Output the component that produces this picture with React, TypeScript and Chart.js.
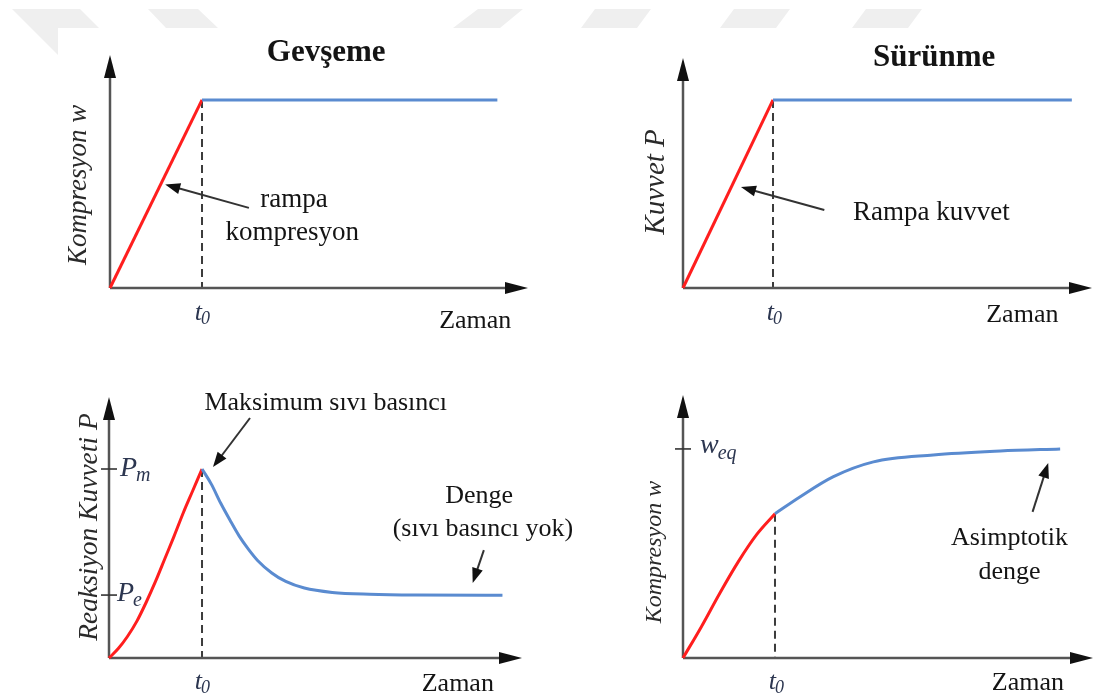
import React, { useEffect, useRef } from "react";
import { Chart, registerables } from "chart.js";

Chart.register(...registerables);

// Time is measured in units of t0; every response is normalised to its reference level.
const t0 = 1;

// Gevşeme: imposed compression, linear ramp up to t0 and then held constant
const relaxRampTime = [0, 1];
const relaxRampComp = [0, 1];
const relaxHoldTime = [1, 4.21];
const relaxHoldComp = [1, 1];

// Sürünme: imposed force, linear ramp up to t0 and then held constant
const creepRampTime = [0, 1];
const creepRampForce = [0, 1];
const creepHoldTime = [1, 4.32];
const creepHoldForce = [1, 1];

// Gevşeme: reaction force climbs to P_m at t0 and relaxes towards P_e
const reactionRiseTime = [0, 0.1, 0.2, 0.3, 0.4, 0.5, 0.6, 0.7, 0.8, 0.9, 1.0];
const reactionRiseForce = [0, 0.05, 0.115, 0.195, 0.295, 0.405, 0.525, 0.645, 0.77, 0.885, 1.0];
const reactionRelaxTime = [1.0, 1.1, 1.2, 1.3, 1.4, 1.5, 1.6, 1.75, 1.9, 2.1, 2.4, 2.8, 3.3, 4.23];
const reactionRelaxForce = [1.0, 0.92, 0.82, 0.73, 0.645, 0.575, 0.515, 0.45, 0.405, 0.37, 0.347, 0.337, 0.333, 0.332];

// Sürünme: compression grows during the ramp, then creeps towards w_eq
const creepRiseTime = [0, 0.2, 0.4, 0.6, 0.8, 1.0];
const creepRiseComp = [0, 0.15, 0.31, 0.46, 0.59, 0.69];
const creepFlowTime = [1.0, 1.27, 1.63, 2.07, 2.72, 3.45, 4.1];
const creepFlowComp = [0.69, 0.77, 0.866, 0.938, 0.971, 0.99, 1.0];

// Reference levels marked on the vertical axes
const peakForce = 1; // P_m
const equilibriumForce = 0.333; // P_e
const equilibriumComp = 1; // w_eq

const PAGE_W = 1094;
const PAGE_H = 699;
const RED = "#ff1e1e";
const BLUE = "#5a8bd0";
const INK = "#141414";
const SLATE = "#2c3650";
const AXIS = "#555555";
const SERIF = '"Liberation Serif", "Times New Roman", serif';
const font = (size: number, style = "") => `${style} ${size}px ${SERIF}`.trim();

type Pt = { x: number; y: number };
const pts = (xs: number[], ys: number[]): Pt[] => xs.map((x, i) => ({ x, y: ys[i] }));

type Label = {
  text: string;
  sub?: string;
  x: number;
  y: number;
  font: string;
  subFont?: string;
  subShift?: number;
  color?: string;
  align?: "left" | "center";
  rotate?: boolean;
};
type Pointer = { from: [number, number]; to: [number, number] };
type Spec = {
  pad: { left: number; top: number; right: number; bottom: number };
  xMax: number;
  yMax: number;
  red: Pt[];
  blue: Pt[];
  curved: boolean;
  guideTop: number;
  levels: number[];
  labels: Label[];
  pointers: Pointer[];
  banner?: boolean;
};

const tLabel = (x: number, y: number): Label => ({
  text: "t",
  sub: "0",
  x,
  y,
  font: font(26, "italic"),
  subFont: font(18, "italic"),
  subShift: 6,
  color: SLATE,
});

// faint banner shapes across the top of the page
const banner: [number, number][][] = [
  [[12, 9], [80, 9], [99, 28], [58, 28], [58, 55]],
  [[148, 9], [198, 9], [218, 28], [166, 28]],
  [[478, 9], [523, 9], [500, 28], [453, 28]],
  [[595, 9], [651, 9], [637, 28], [581, 28]],
  [[734, 9], [790, 9], [776, 28], [720, 28]],
  [[866, 9], [922, 9], [908, 28], [852, 28]],
];

const panels: Spec[] = [
  {
    pad: { left: 110, top: 55, right: 566, bottom: 411 },
    xMax: 4.543,
    yMax: 1.239,
    red: pts(relaxRampTime, relaxRampComp),
    blue: pts(relaxHoldTime, relaxHoldComp),
    curved: false,
    guideTop: relaxHoldComp[0],
    levels: [],
    banner: true,
    labels: [
      { text: "Gevşeme", x: 2.35, y: 1.25, font: font(31, "bold") },
      tLabel(1.01, -0.133),
      { text: "Zaman", x: 3.97, y: -0.175, font: font(26) },
      { text: "rampa", x: 2.0, y: 0.468, font: font(27) },
      { text: "kompresyon", x: 1.98, y: 0.293, font: font(27) },
      { text: "Kompresyon w", x: -0.337, y: 0.548, font: font(27, "italic"), rotate: true, color: "#2a2a2a" },
    ],
    pointers: [{ from: [1.51, 0.426], to: [0.6, 0.55] }],
  },
  {
    pad: { left: 683, top: 58, right: 2, bottom: 411 },
    xMax: 4.544,
    yMax: 1.223,
    red: pts(creepRampTime, creepRampForce),
    blue: pts(creepHoldTime, creepHoldForce),
    curved: false,
    guideTop: creepHoldForce[0],
    levels: [],
    labels: [
      { text: "Sürünme", x: 2.79, y: 1.223, font: font(31, "bold") },
      tLabel(1.02, -0.133),
      { text: "Zaman", x: 3.77, y: -0.144, font: font(26) },
      { text: "Rampa kuvvet", x: 2.76, y: 0.399, font: font(27) },
      { text: "Kuvvet P", x: -0.3, y: 0.564, font: font(29, "italic"), rotate: true, color: "#2a2a2a" },
    ],
    pointers: [{ from: [1.57, 0.415], to: [0.644, 0.537] }],
  },
  {
    pad: { left: 109, top: 397, right: 572, bottom: 41 },
    xMax: 4.44,
    yMax: 1.381,
    red: pts(reactionRiseTime, reactionRiseForce),
    blue: pts(reactionRelaxTime, reactionRelaxForce),
    curved: true,
    guideTop: peakForce,
    levels: [peakForce, equilibriumForce],
    labels: [
      { text: "P", sub: "m", x: 0.118, y: peakForce, font: font(28, "italic"), subFont: font(20, "italic"), subShift: 7, color: SLATE, align: "left" },
      { text: "P", sub: "e", x: 0.086, y: equilibriumForce + 0.005, font: font(28, "italic"), subFont: font(20, "italic"), subShift: 7, color: SLATE, align: "left" },
      tLabel(1.01, -0.127),
      { text: "Zaman", x: 3.75, y: -0.138, font: font(26) },
      { text: "Maksimum sıvı basıncı", x: 2.33, y: 1.349, font: font(26) },
      { text: "Denge", x: 3.98, y: 0.857, font: font(26) },
      { text: "(sıvı basıncı yok)", x: 4.02, y: 0.68, font: font(26) },
      { text: "Reaksiyon Kuvveti P", x: -0.204, y: 0.693, font: font(27.5, "italic"), rotate: true, color: "#2a2a2a" },
    ],
    pointers: [
      { from: [1.516, 1.27], to: [1.118, 1.01] },
      { from: [4.03, 0.571], to: [3.91, 0.397] },
    ],
  },
  {
    pad: { left: 683, top: 395, right: 1, bottom: 41 },
    xMax: 4.457,
    yMax: 1.258,
    red: pts(creepRiseTime, creepRiseComp),
    blue: pts(creepFlowTime, creepFlowComp),
    curved: true,
    guideTop: creepFlowComp[0],
    levels: [equilibriumComp],
    labels: [
      { text: "w", sub: "eq", x: 0.185, y: equilibriumComp + 0.015, font: font(28, "italic"), subFont: font(20, "italic"), subShift: 8, color: SLATE, align: "left" },
      tLabel(1.02, -0.115),
      { text: "Zaman", x: 3.75, y: -0.12, font: font(26) },
      { text: "Asimptotik", x: 3.55, y: 0.574, font: font(26) },
      { text: "denge", x: 3.55, y: 0.411, font: font(26) },
      { text: "Kompresyon w", x: -0.304, y: 0.507, font: font(24, "italic"), rotate: true, color: "#2a2a2a" },
    ],
    pointers: [{ from: [3.8, 0.699], to: [3.97, 0.933] }],
  },
];

function drawArrow(
  ctx: CanvasRenderingContext2D,
  x1: number,
  y1: number,
  x2: number,
  y2: number,
  head: number,
  half: number,
  lineColor: string,
  headColor: string,
  width: number
) {
  const ang = Math.atan2(y2 - y1, x2 - x1);
  const bx = x2 - head * Math.cos(ang);
  const by = y2 - head * Math.sin(ang);
  ctx.strokeStyle = lineColor;
  ctx.lineWidth = width;
  ctx.beginPath();
  ctx.moveTo(x1, y1);
  ctx.lineTo(bx + 2 * Math.cos(ang), by + 2 * Math.sin(ang));
  ctx.stroke();
  ctx.fillStyle = headColor;
  ctx.beginPath();
  ctx.moveTo(x2, y2);
  ctx.lineTo(bx + half * Math.sin(ang), by - half * Math.cos(ang));
  ctx.lineTo(bx - half * Math.sin(ang), by + half * Math.cos(ang));
  ctx.closePath();
  ctx.fill();
}

function drawLabel(ctx: CanvasRenderingContext2D, px: number, py: number, l: Label) {
  ctx.save();
  ctx.fillStyle = l.color ?? INK;
  ctx.textBaseline = "middle";
  ctx.textAlign = "left";
  ctx.translate(px, py);
  if (l.rotate) ctx.rotate(-Math.PI / 2);
  ctx.font = l.font;
  const w1 = ctx.measureText(l.text).width;
  let w2 = 0;
  if (l.sub && l.subFont) {
    ctx.font = l.subFont;
    w2 = ctx.measureText(l.sub).width;
  }
  const x0 = l.align === "left" ? 0 : -(w1 + w2) / 2;
  ctx.font = l.font;
  ctx.fillText(l.text, x0, 0);
  if (l.sub && l.subFont) {
    ctx.font = l.subFont;
    ctx.fillText(l.sub, x0 + w1 - 1, l.subShift ?? 6);
  }
  ctx.restore();
}

function schematic(spec: Spec) {
  return {
    id: "schematic",
    beforeDraw(chart: Chart) {
      if (!spec.banner) return;
      const ctx = chart.ctx;
      ctx.save();
      ctx.fillStyle = "#efefef";
      for (const shape of banner) {
        ctx.beginPath();
        shape.forEach(([x, y], i) => {
          if (i === 0) ctx.moveTo(x, y);
          else ctx.lineTo(x, y);
        });
        ctx.closePath();
        ctx.fill();
      }
      ctx.restore();
    },
    beforeDatasetsDraw(chart: Chart) {
      const { ctx, chartArea: a } = chart;
      const xs = chart.scales.x;
      const ys = chart.scales.y;
      ctx.save();
      // dashed guide at t0
      ctx.setLineDash([8, 5]);
      ctx.strokeStyle = "#3c3c3c";
      ctx.lineWidth = 2;
      ctx.beginPath();
      ctx.moveTo(xs.getPixelForValue(t0), ys.getPixelForValue(spec.guideTop));
      ctx.lineTo(xs.getPixelForValue(t0), ys.getPixelForValue(0));
      ctx.stroke();
      ctx.setLineDash([]);
      // axes with arrow heads
      drawArrow(ctx, a.left, a.bottom, a.left, a.top, 23, 6, AXIS, "#111", 2.5);
      drawArrow(ctx, a.left, a.bottom, a.right, a.bottom, 23, 6, AXIS, "#111", 2.5);
      // level ticks on the vertical axis
      ctx.strokeStyle = "#333";
      ctx.lineWidth = 1.6;
      for (const v of spec.levels) {
        const py = ys.getPixelForValue(v);
        ctx.beginPath();
        ctx.moveTo(a.left - 8, py);
        ctx.lineTo(a.left + 8, py);
        ctx.stroke();
      }
      ctx.restore();
    },
    afterDatasetsDraw(chart: Chart) {
      const ctx = chart.ctx;
      const xs = chart.scales.x;
      const ys = chart.scales.y;
      ctx.save();
      for (const p of spec.pointers) {
        drawArrow(
          ctx,
          xs.getPixelForValue(p.from[0]),
          ys.getPixelForValue(p.from[1]),
          xs.getPixelForValue(p.to[0]),
          ys.getPixelForValue(p.to[1]),
          15,
          5.5,
          "#333",
          "#111",
          2
        );
      }
      for (const l of spec.labels) {
        drawLabel(ctx, xs.getPixelForValue(l.x), ys.getPixelForValue(l.y), l);
      }
      ctx.restore();
    },
  };
}

function Panel({ spec }: { spec: Spec }) {
  const ref = useRef<HTMLCanvasElement | null>(null);
  useEffect(() => {
    if (!ref.current) return;
    const line = (data: Pt[], color: string) => ({
      data,
      borderColor: color,
      borderWidth: 3,
      pointRadius: 0,
      fill: false,
      clip: false as const,
      tension: spec.curved ? 0.4 : 0,
      cubicInterpolationMode: spec.curved ? ("monotone" as const) : ("default" as const),
    });
    const chart = new Chart(ref.current, {
      type: "line",
      data: { datasets: [line(spec.blue, BLUE), line(spec.red, RED)] },
      options: {
        animation: false,
        responsive: false,
        maintainAspectRatio: false,
        events: [],
        layout: { padding: spec.pad },
        scales: {
          x: { type: "linear", min: 0, max: spec.xMax, display: false },
          y: { type: "linear", min: 0, max: spec.yMax, display: false },
        },
        plugins: { legend: { display: false }, tooltip: { enabled: false } },
      },
      plugins: [schematic(spec)],
    });
    return () => chart.destroy();
  }, [spec]);
  return (
    <canvas
      ref={ref}
      width={PAGE_W}
      height={PAGE_H}
      style={{ position: "absolute", left: 0, top: 0 }}
    />
  );
}

export default function App() {
  return (
    <div style={{ position: "absolute", left: 0, top: 0, width: PAGE_W, height: PAGE_H, background: "#fff", overflow: "hidden" }}>
      {panels.map((spec, i) => (
        <Panel key={i} spec={spec} />
      ))}
    </div>
  );
}
